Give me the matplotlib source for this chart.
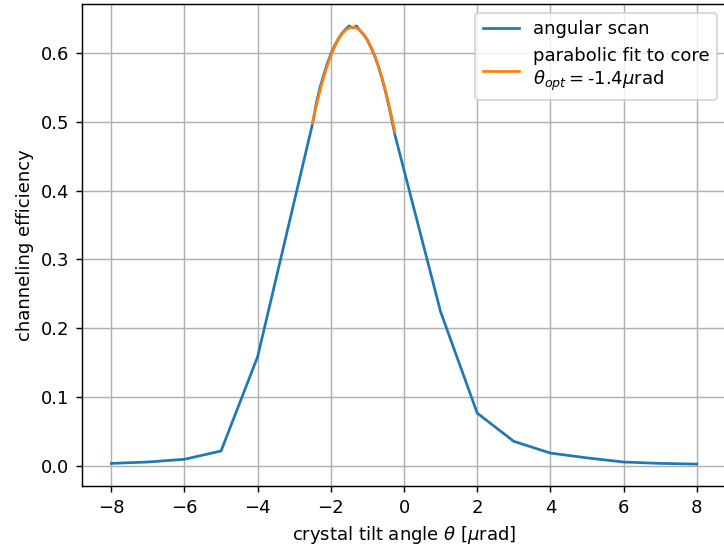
import numpy as np
import matplotlib
matplotlib.use("Agg")
import matplotlib.pyplot as plt

# angular scan: coarse tails plus a fine scan across the channeling core
x_left = [-8, -7, -6, -5, -4]
y_left = [0.004, 0.006, 0.010, 0.022, 0.159]

x_core = [-2.5, -2.4, -2.3, -2.2, -2.1, -2.0, -1.9, -1.8, -1.7, -1.6, -1.5, -1.4,
          -1.3, -1.2, -1.1, -1.0, -0.9, -0.8, -0.7, -0.6, -0.5, -0.4, -0.25]
y_core = [0.497, 0.526, 0.549, 0.567, 0.584, 0.598, 0.610, 0.620, 0.628, 0.634, 0.639, 0.636,
          0.639, 0.632, 0.626, 0.618, 0.607, 0.595, 0.580, 0.562, 0.542, 0.519, 0.481]

x_right = [1, 2, 3, 4, 5, 6, 7, 8]
y_right = [0.224, 0.077, 0.036, 0.019, 0.012, 0.006, 0.004, 0.003]

# parabola fitted to the core: eff = peak - curv * (theta - theta_opt)^2
theta_opt = -1.4
peak_eff = 0.637
curv = 0.115

theta = np.array(x_left + x_core + x_right)
eff = np.array(y_left + y_core + y_right)

th_fit = np.linspace(min(x_core), max(x_core), 200)
eff_fit = peak_eff - curv * (th_fit - theta_opt) ** 2

fig = plt.figure(figsize=(724 / 130, 546 / 130), dpi=130)
ax = fig.add_axes([0.1133, 0.1099, 0.8895, 0.8828])

ax.plot(theta, eff, label="angular scan")
ax.plot(th_fit, eff_fit, label="parabolic fit to core\n$\\theta_{opt}=$" + f"{theta_opt:.1f}" + "$\\mu$rad")

ax.set_xticks(np.arange(-8, 9, 2))
ax.set_xlabel("crystal tilt angle $\\theta$ [$\\mu$rad]")
ax.set_ylabel("channeling efficiency")
ax.grid(True)
ax.legend(loc="upper right")

fig.savefig("out.png", dpi=130)
